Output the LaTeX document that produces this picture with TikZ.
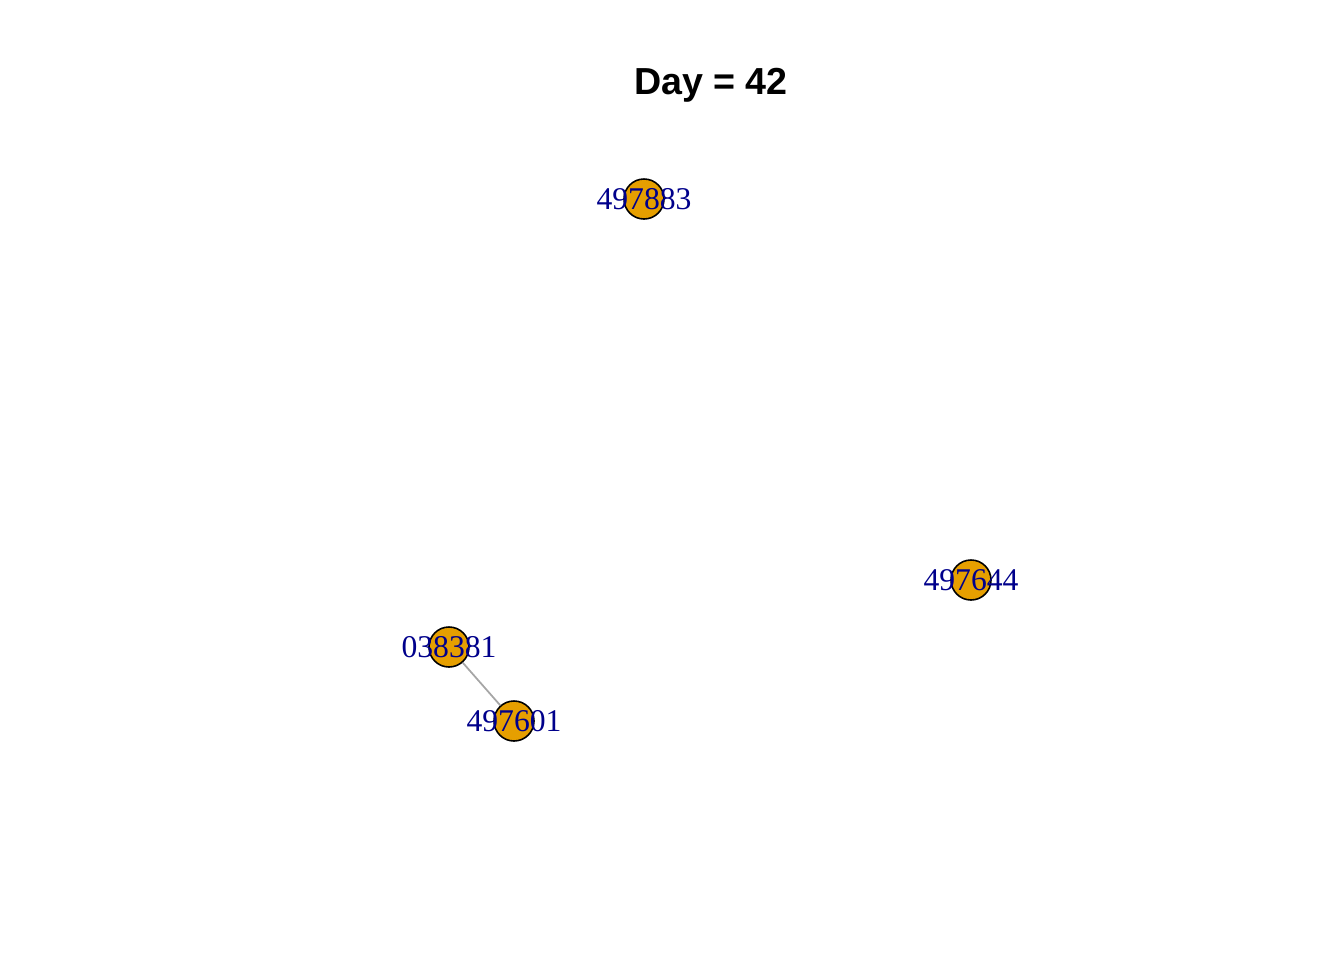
\documentclass[tikz,border=0pt]{standalone}
\usepackage{fontspec}
\setmainfont{Liberation Serif}
\newfontfamily\titlefont{Liberation Sans}
\definecolor{vfill}{HTML}{E69F00}
\definecolor{vlab}{HTML}{00008B}
\definecolor{egray}{HTML}{A6A6A6}
\tikzset{
  vertex/.style={circle, draw=black, line width=0.45pt, fill=vfill, minimum size=0.4cm, inner sep=0pt},
  vlabel/.style={inner sep=0pt, text=vlab, font=\fontsize{9}{9}\selectfont},
  edge/.style={draw=egray, line width=0.5pt}
}
\begin{document}
\begin{tikzpicture}[x=0.01cm, y=-0.01cm]
  \useasboundingbox (0,0) rectangle (1344,960);
  \node[font=\titlefont\bfseries\fontsize{10.7}{10.7}\selectfont, anchor=base] (title) at (711,94) {Day = 42};
  % vertices
  \node[vertex] (v497883) at (644,199) {};
  \node[vertex] (v497644) at (971,580) {};
  \node[vertex] (v038381) at (449,647) {};
  \node[vertex] (v497601) at (514,721) {};
  % edges
  \draw[edge] (v038381) -- (v497601);
  % labels
  \node[vlabel] (l497883) at (v497883) {497883};
  \node[vlabel] (l497644) at (v497644) {497644};
  \node[vlabel] (l038381) at (v038381) {038381};
  \node[vlabel] (l497601) at (v497601) {497601};
\end{tikzpicture}
\end{document}
